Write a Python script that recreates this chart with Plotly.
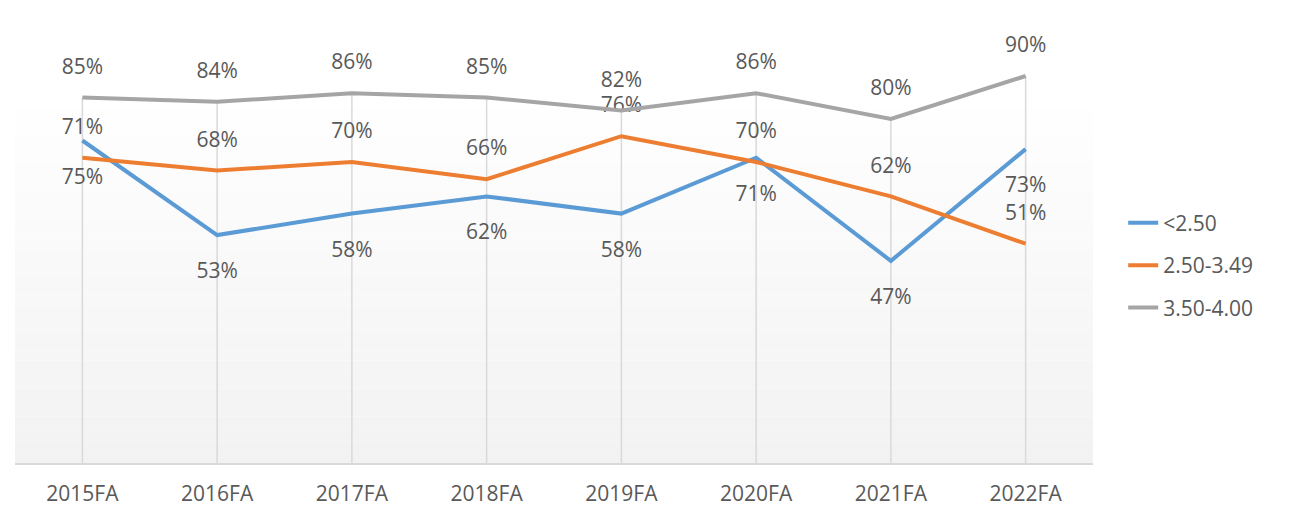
import plotly.graph_objects as go

categories = ["2015FA", "2016FA", "2017FA", "2018FA", "2019FA", "2020FA", "2021FA", "2022FA"]
gpa_below_250 = [75, 53, 58, 62, 58, 71, 47, 73]
gpa_250_349 = [71, 68, 70, 66, 76, 70, 62, 51]
gpa_350_400 = [85, 84, 86, 85, 82, 86, 80, 90]
series_names = ["<2.50", "2.50-3.49", "3.50-4.00"]

FONT = "Open Sans"
TXT = "#595959"
colors = ["#5b9bd5", "#ed7d31", "#a5a5a5"]

fig = go.Figure()

# drop lines from highest value to axis
dx, dy = [], []
for i, c in enumerate(categories):
    top = max(gpa_below_250[i], gpa_250_349[i], gpa_350_400[i])
    dx += [c, c, None]
    dy += [0, top, None]
fig.add_trace(go.Scatter(x=dx, y=dy, mode="lines", line=dict(color="#d9d9d9", width=1.5),
                         showlegend=False, hoverinfo="skip"))

series = [gpa_below_250, gpa_250_349, gpa_350_400]
positions = ["bottom center", "top center", "top center"]
msizes = [42, 28, 28]
for name, vals, col, pos, ms in zip(series_names, series, colors, positions, msizes):
    fig.add_trace(go.Scatter(
        x=categories, y=vals, name=name, legendgroup=name,
        mode="lines+markers+text",
        line=dict(color=col, width=4),
        marker=dict(size=ms, color="rgba(0,0,0,0)"),
        text=[f"{v}%" for v in vals], textposition=pos,
        textfont=dict(family=FONT, size=21, color=TXT),
        hoverinfo="x+y+name",
    ))

# gradient plot-area background
n = 40
top_y = 86.7
shapes = []
for k in range(n):
    t = k / (n - 1)
    g = round(255 - (255 - 242) * t)
    y1 = top_y - top_y * k / n
    y0 = top_y - top_y * (k + 1) / n
    shapes.append(dict(type="rect", xref="paper", yref="y", x0=0, x1=1, y0=y0, y1=y1,
                       fillcolor=f"rgb({g},{g},{g})", line=dict(width=0), layer="below"))
# right-hand dark frame edge
shapes.append(dict(type="rect", xref="paper", yref="paper", x0=1.1985, x1=1.2040, y0=-0.2, y1=1.2,
                   fillcolor="black", line=dict(width=0)))

# page body has an 8px margin, so the figure is sized/margined to compensate
fig.update_layout(
    width=1305, height=499,
    margin=dict(l=7, r=220, t=25, b=44, autoexpand=False),
    paper_bgcolor="white", plot_bgcolor="rgba(0,0,0,0)",
    shapes=shapes,
    showlegend=True,
    legend=dict(x=1.028, xanchor="left", y=0.46, yanchor="middle",
                font=dict(family=FONT, size=21, color=TXT),
                bgcolor="rgba(0,0,0,0)", tracegroupgap=12),
    xaxis=dict(showgrid=False, showline=True, linecolor="#d9d9d9", linewidth=1.5,
               ticks="", ticklabelstandoff=11, range=[-0.5, 7.5], automargin=False,
               tickfont=dict(family=FONT, size=21, color=TXT)),
    yaxis=dict(range=[0, 100], visible=False, showgrid=False, zeroline=False, automargin=False),
)

fig.write_html("out.html", post_script="document.body.style.overflow='hidden';")
